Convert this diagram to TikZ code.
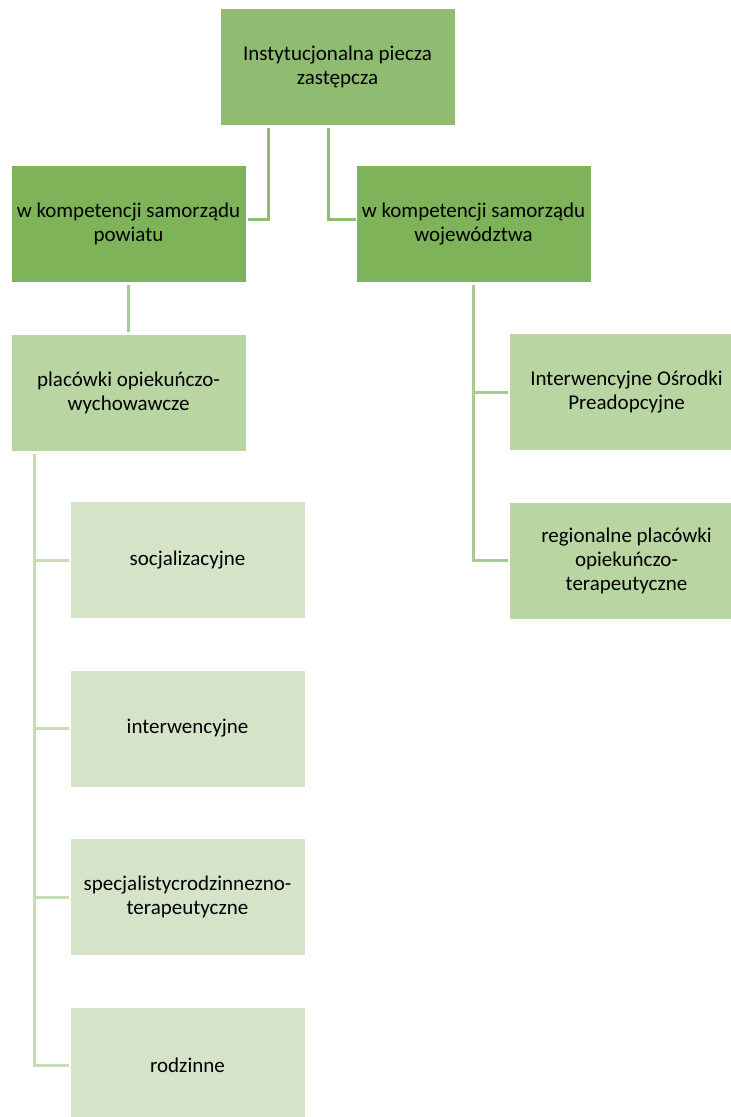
\documentclass[tikz,border=0pt]{standalone}
\usepackage{fontspec}
\setmainfont{Carlito}
\usepackage{tikz}
\usetikzlibrary{positioning}

\definecolor{ziel1}{HTML}{8FBC70}
\definecolor{ziel2}{HTML}{7EB35A}
\definecolor{ziel3}{HTML}{B8D5A2}
\definecolor{ziel4}{HTML}{D5E4C8}
\definecolor{linia1}{HTML}{8FBC70}
\definecolor{linia2}{HTML}{A9CB90}
\definecolor{linia3}{HTML}{C6DBB6}

\tikzset{
  pole/.style={rectangle, minimum width=234pt, minimum height=116pt,
    inner sep=0pt, outer sep=0pt, align=center,
    font=\fontsize{21}{24}\selectfont},
  poziom1/.style={pole, fill=ziel1},
  poziom2/.style={pole, fill=ziel2},
  poziom3/.style={pole, fill=ziel3},
  poziom4/.style={pole, fill=ziel4},
  laczA/.style={draw=linia1, line width=3pt},
  laczB/.style={draw=linia2, line width=3pt},
  laczC/.style={draw=linia3, line width=3pt}
}

\begin{document}
\begin{tikzpicture}[x=1pt,y=-1pt,node distance=52.5pt]
  \clip (0,0) rectangle (731,1117);
  \node[poziom1] (piecza)     at (337.5,67) {Instytucjonalna piecza\\zastępcza};
  \node[poziom2] (powiat)     at (128.5,224) {w kompetencji samorządu\\powiatu};
  \node[poziom2] (wojew)      at (473.5,224) {w kompetencji samorządu\\województwa};
  \node[poziom3] (placowki)   [below=of powiat] {placówki opiekuńczo-\\wychowawcze};
  \node[poziom3] (osrodki)    at (626.5,392) {Interwencyjne Ośrodki\\Preadopcyjne};
  \node[poziom3] (regionalne) [below=of osrodki] {regionalne placówki\\opiekuńczo-\\terapeutyczne};
  \node[poziom4] (socjal)     at (187.5,560) {socjalizacyjne};
  \node[poziom4] (interw)     [below=of socjal] {interwencyjne};
  \node[poziom4] (specjal)    [below=of interw] {specjalistycrodzinnezno-\\terapeutyczne};
  \node[poziom4] (rodzinne)   [below=of specjal] {rodzinne};

  \coordinate (pion) at ([xshift=-94.5pt,yshift=-3pt]placowki.south);

  \draw[laczA] ([xshift=-69.5pt,yshift=-3pt]piecza.south) |- ([xshift=2pt,yshift=5pt]powiat.east);
  \draw[laczA] ([xshift=-9.5pt,yshift=-3pt]piecza.south) |- ([xshift=-1pt,yshift=5pt]wojew.west);
  \draw[laczB] ([yshift=-3pt]powiat.south) -- ([yshift=3pt]placowki.north);
  \draw[laczB] ([yshift=-3pt]wojew.south) |- ([xshift=-2pt]osrodki.west);
  \draw[laczB] ([yshift=-3pt]wojew.south) |- ([xshift=-2pt]regionalne.west);
  \draw[laczC] (pion) |- ([xshift=-2pt]socjal.west);
  \draw[laczC] (pion) |- ([xshift=-2pt]interw.west);
  \draw[laczC] (pion) |- ([xshift=-2pt]specjal.west);
  \draw[laczC] (pion) |- ([xshift=-2pt]rodzinne.west);
\end{tikzpicture}
\end{document}
